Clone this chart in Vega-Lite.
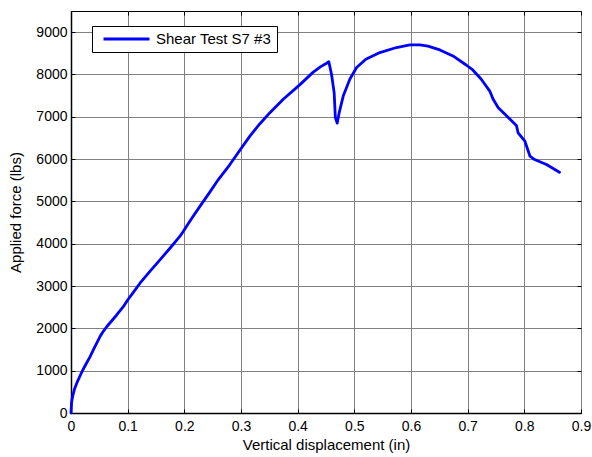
{
  "$schema": "https://vega.github.io/schema/vega-lite/v6.json",
  "width": 510,
  "height": 402,
  "autosize": {"type": "none"},
  "padding": {"left": 71, "top": 11, "right": 11, "bottom": 44},
  "background": "white",
  "config": {
    "font": "Liberation Sans",
    "view": {"stroke": "black", "strokeWidth": 1}
  },
  "data": {
    "values": [
      {"x": 0, "y": 0}, {"x": 0.001, "y": 250}, {"x": 0.003, "y": 400}, {"x": 0.006, "y": 560},
      {"x": 0.010, "y": 700}, {"x": 0.015, "y": 850}, {"x": 0.0206, "y": 1010}, {"x": 0.027, "y": 1170},
      {"x": 0.0335, "y": 1327}, {"x": 0.042, "y": 1560}, {"x": 0.051, "y": 1800}, {"x": 0.057, "y": 1930},
      {"x": 0.063, "y": 2038}, {"x": 0.072, "y": 2180}, {"x": 0.0806, "y": 2316}, {"x": 0.0923, "y": 2512},
      {"x": 0.1, "y": 2670}, {"x": 0.11, "y": 2850}, {"x": 0.1217, "y": 3067}, {"x": 0.14, "y": 3360},
      {"x": 0.157, "y": 3619}, {"x": 0.175, "y": 3900}, {"x": 0.192, "y": 4172}, {"x": 0.198, "y": 4290},
      {"x": 0.212, "y": 4580}, {"x": 0.2275, "y": 4883}, {"x": 0.245, "y": 5220}, {"x": 0.26, "y": 5516},
      {"x": 0.2804, "y": 5871}, {"x": 0.298, "y": 6210}, {"x": 0.3157, "y": 6542}, {"x": 0.333, "y": 6830},
      {"x": 0.351, "y": 7097}, {"x": 0.375, "y": 7420}, {"x": 0.398, "y": 7689}, {"x": 0.404, "y": 7760},
      {"x": 0.427, "y": 8050}, {"x": 0.44, "y": 8180}, {"x": 0.451, "y": 8265}, {"x": 0.455, "y": 8300},
      {"x": 0.4598, "y": 8000}, {"x": 0.4644, "y": 7570}, {"x": 0.4665, "y": 6980}, {"x": 0.4697, "y": 6850},
      {"x": 0.4733, "y": 7097}, {"x": 0.4804, "y": 7490}, {"x": 0.492, "y": 7886}, {"x": 0.504, "y": 8163},
      {"x": 0.5203, "y": 8360}, {"x": 0.545, "y": 8518}, {"x": 0.5744, "y": 8637}, {"x": 0.598, "y": 8699},
      {"x": 0.6155, "y": 8699}, {"x": 0.63, "y": 8670}, {"x": 0.651, "y": 8580}, {"x": 0.674, "y": 8438},
      {"x": 0.698, "y": 8218}, {"x": 0.709, "y": 8106}, {"x": 0.724, "y": 7886}, {"x": 0.739, "y": 7608},
      {"x": 0.745, "y": 7412}, {"x": 0.754, "y": 7215}, {"x": 0.769, "y": 7016}, {"x": 0.786, "y": 6796},
      {"x": 0.789, "y": 6622}, {"x": 0.801, "y": 6423}, {"x": 0.81, "y": 6068}, {"x": 0.818, "y": 5990},
      {"x": 0.839, "y": 5871}, {"x": 0.862, "y": 5689}
    ]
  },
  "layer": [
    {
      "mark": {"type": "line", "opacity": 0},
      "encoding": {
        "x": {"field": "x", "type": "quantitative", "scale": {"domain": [0, 0.9], "nice": false},
          "axis": {"orient": "top", "values": [0, 0.1, 0.2, 0.3, 0.4, 0.5, 0.6, 0.7, 0.8, 0.9], "labels": false, "title": null, "grid": false, "domain": false, "ticks": true, "tickSize": -4, "tickColor": "black"}},
        "y": {"field": "y", "type": "quantitative", "scale": {"domain": [0, 9500], "nice": false},
          "axis": {"orient": "right", "values": [0, 1000, 2000, 3000, 4000, 5000, 6000, 7000, 8000, 9000], "labels": false, "title": null, "grid": false, "domain": false, "ticks": true, "tickSize": -4, "tickColor": "black"}}
      }
    },
    {
      "mark": {"type": "line", "strokeWidth": 2.8, "strokeJoin": "round", "strokeCap": "round"},
      "encoding": {
        "x": {"field": "x", "type": "quantitative", "scale": {"domain": [0, 0.9], "nice": false},
          "axis": {"orient": "bottom", "values": [0, 0.1, 0.2, 0.3, 0.4, 0.5, 0.6, 0.7, 0.8, 0.9], "format": "~g",
            "grid": true, "gridColor": "#808080", "gridWidth": 1, "gridOpacity": 1,
            "domain": true, "domainColor": "black", "domainWidth": 1.5,
            "ticks": true, "tickSize": -4, "tickColor": "black",
            "labelFontSize": 14, "labelColor": "black", "labelPadding": 10, "labelFlush": false,
            "title": "Vertical displacement (in)", "titleFontSize": 15, "titleFontWeight": "normal", "titleColor": "black", "titlePadding": 4}},
        "y": {"field": "y", "type": "quantitative", "scale": {"domain": [0, 9500], "nice": false},
          "axis": {"orient": "left", "values": [0, 1000, 2000, 3000, 4000, 5000, 6000, 7000, 8000, 9000], "format": "d",
            "grid": true, "gridColor": "#808080", "gridWidth": 1, "gridOpacity": 1,
            "domain": true, "domainColor": "black", "domainWidth": 1.5,
            "ticks": true, "tickSize": -4, "tickColor": "black",
            "labelFontSize": 14, "labelColor": "black", "labelPadding": 8, "labelFlush": false,
            "title": "Applied force (lbs)", "titleFontSize": 15, "titleFontWeight": "normal", "titleColor": "black", "titlePadding": 12}},
        "color": {"datum": "Shear Test S7 #3", "type": "nominal", "scale": {"range": ["#0000ff"]},
          "legend": {"orient": "none", "legendX": 21, "legendY": 15, "title": null,
            "fillColor": "white", "strokeColor": "black", "padding": 5, "cornerRadius": 0,
            "symbolType": "stroke", "symbolSize": 2116, "symbolStrokeWidth": 2.8, "symbolOffset": 5,
            "clipHeight": 16,
            "labelFontSize": 15, "labelColor": "black", "labelOffset": 5}}
      }
    }
  ],
  "resolve": {"axis": {"x": "independent", "y": "independent"}}
}
